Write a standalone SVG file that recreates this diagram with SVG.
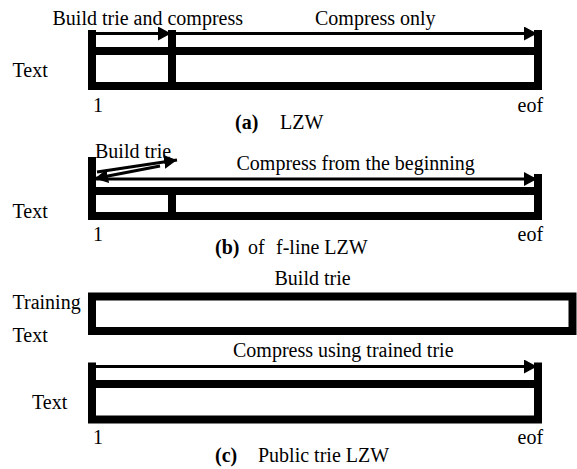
<svg xmlns="http://www.w3.org/2000/svg" width="577" height="469" viewBox="0 0 577 469">
  <style>
    text { font-family: "Liberation Serif", "Times New Roman", serif; font-size: 20px; fill: #000; }
    .b { font-weight: bold; }
    .frame { fill: none; stroke: #000; stroke-width: 8; }
    .bar { fill: #000; }
    .flow { fill: none; stroke: #000; stroke-width: 3; }
  </style>
  <defs>
    <marker id="ah" markerUnits="userSpaceOnUse" markerWidth="14" markerHeight="14" refX="13" refY="7" orient="auto">
      <path d="M0,0 L13,7 L0,14 z" fill="#000"/>
    </marker>
  </defs>

  <!-- (a) LZW -->
  <g id="lzw">
    <rect class="frame" x="92" y="51" width="446" height="35"/>
    <rect class="bar" x="88" y="30" width="8" height="20"/>
    <rect class="bar" x="168" y="30" width="8" height="60"/>
    <rect class="bar" x="534" y="30" width="8" height="20"/>
    <text x="52.5" y="25">Build trie and compress</text>
    <text x="315" y="25">Compress only</text>
    <text x="12.5" y="76.5">Text</text>
    <text x="93" y="111.5">1</text>
    <text x="517.5" y="111.5">eof</text>
    <text y="128.5"><tspan class="b" x="235">(a)</tspan><tspan x="280">LZW</tspan></text>
  </g>

  <!-- (b) off-line LZW -->
  <g id="offline-lzw">
    <rect class="frame" x="92" y="191" width="446" height="25"/>
    <rect class="bar" x="88" y="157" width="8" height="34"/>
    <rect class="bar" x="168" y="188" width="8" height="32"/>
    <rect class="bar" x="534" y="174" width="8" height="17"/>
    <text x="95" y="157.5">Build trie</text>
    <text x="236.5" y="170">Compress from the beginning</text>
    <text x="12.5" y="217.5">Text</text>
    <text x="93" y="241">1</text>
    <text x="517.5" y="241">eof</text>
    <text y="254"><tspan class="b" x="215">(b)</tspan><tspan x="248">of</tspan><tspan x="276">f-line LZW</tspan></text>
  </g>

  <!-- (c) Public trie LZW: training text -->
  <g id="training-text">
    <rect class="frame" x="92" y="296.5" width="480.5" height="34.5"/>
    <text x="274.5" y="285">Build trie</text>
    <text x="12.5" y="308.5">Training</text>
    <text x="12.5" y="341.5">Text</text>
  </g>

  <!-- (c) Public trie LZW: compressed text -->
  <g id="public-trie-lzw">
    <rect class="frame" x="92" y="384" width="446" height="35.5"/>
    <rect class="bar" x="88" y="362.5" width="8" height="22"/>
    <rect class="bar" x="534" y="362.5" width="8" height="22"/>
    <text x="233" y="357">Compress using trained trie</text>
    <text x="32" y="408.5">Text</text>
    <text x="93" y="444">1</text>
    <text x="517.5" y="444">eof</text>
    <text y="462"><tspan class="b" x="215">(c)</tspan><tspan x="258">Public trie LZW</tspan></text>
  </g>

  <!-- connectors -->
  <g id="connectors">
    <line class="flow" x1="96" y1="33.5" x2="171" y2="33.5" marker-end="url(#ah)"/>
    <line class="flow" x1="176" y1="33.5" x2="537" y2="33.5" marker-end="url(#ah)"/>
    <line class="flow" x1="97" y1="172" x2="177" y2="160" marker-end="url(#ah)"/>
    <line class="flow" x1="160" y1="166" x2="95" y2="178.5" marker-end="url(#ah)"/>
    <line class="flow" x1="96" y1="179" x2="537" y2="179" marker-end="url(#ah)"/>
    <line class="flow" x1="96" y1="366.5" x2="537" y2="366.5" marker-end="url(#ah)"/>
  </g>
</svg>
